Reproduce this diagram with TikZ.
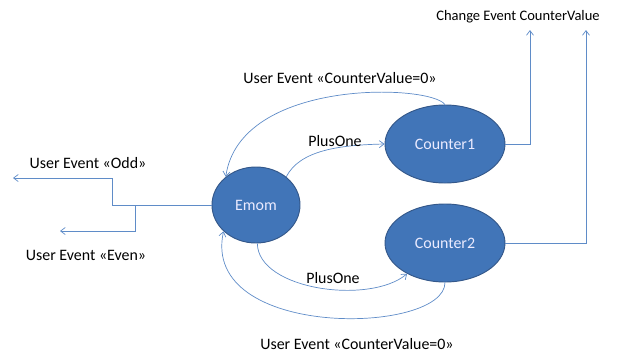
\documentclass[tikz,border=0pt]{standalone}
\usepackage{fontspec}
\setmainfont{Carlito}
\usetikzlibrary{arrows.meta,shapes.geometric}

\definecolor{statefill}{RGB}{65,117,184}
\definecolor{stateline}{RGB}{52,88,138}
\definecolor{wire}{RGB}{95,140,200}

\begin{document}
\begin{tikzpicture}[
      x=0.03cm, y=-0.03cm,
      state/.style={ellipse, draw=stateline, fill=statefill, thick, text=white!92!blue},
      wire/.style={draw=wire, line width=0.6pt},
      flow/.style={wire, -{Straight Barb[length=4pt,width=6pt]}},
      lbl/.style={text=black, inner sep=0pt},
      every node/.style={font=\fontsize{13.6}{15}\selectfont}
    ]
    \useasboundingbox (0,0) rectangle (631,352);

    % states
    \node[state, minimum width=2.64cm, minimum height=2.28cm] (emom) at (256,205) {Emom};
    \node[state, minimum width=3.6cm, minimum height=2.34cm] (counter1) at (445,144) {Counter1};
    \node[state, minimum width=3.6cm, minimum height=2.34cm] (counter2) at (445,243) {Counter2};

    % free ends
    \coordinate (odd) at (13,178);
    \coordinate (even) at (60,231);
    \coordinate (chg1) at (530,30);
    \coordinate (chg2) at (586,30);

    % user events to the left
    \draw[flow] (emom.west) -- (112,205) |- (odd);
    \draw[flow] (135,205) |- (even);
    \node[lbl] (oddlbl) at (88,163) {User Event «Odd»};
    \node[lbl] (evenlbl) at (86,255) {User Event «Even»};

    % PlusOne transitions
    \draw[flow] (emom.43) .. controls (300,150) and (340,145) .. (counter1.west);
    \node[lbl] (plus1) at (335,141) {PlusOne};
    \draw[flow] (emom.272) .. controls (258,290) and (370,305) .. (counter2.219);
    \node[lbl] (plus2) at (333,278) {PlusOne};

    % CounterValue=0 back to Emom
    \draw[flow] (counter1.north) .. controls (430,84) and (240,78) .. (emom.137);
    \node[lbl] (reset1) at (340,78) {User Event «CounterValue=0»};
    \draw[flow] (counter2.south) .. controls (445,335) and (200,340) .. (emom.219);
    \node[lbl] (reset2) at (357,344) {User Event «CounterValue=0»};

    % change events
    \draw[flow] (counter1.east) -| (chg1);
    \draw[flow] (counter2.east) -| (chg2);
    \node[lbl, font=\fontsize{12.4}{14}\selectfont] (chglbl) at (518,17) {Change Event CounterValue};
  \end{tikzpicture}
\end{document}
